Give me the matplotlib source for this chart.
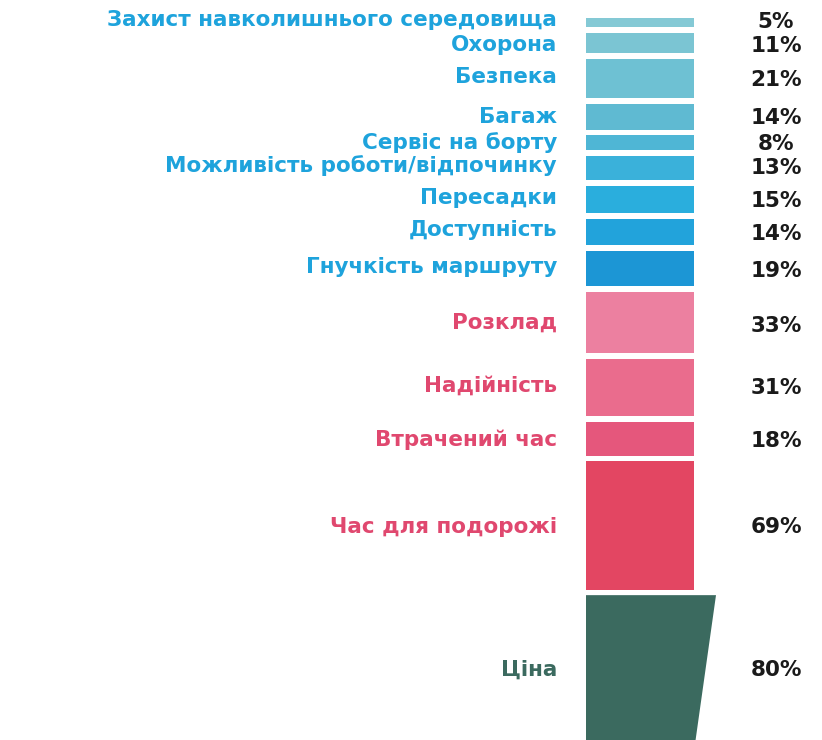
import numpy as np
import matplotlib.pyplot as plt
from matplotlib.patches import Polygon

# data
labels = [
    "Захист навколишнього середовища",
    "Охорона",
    "Безпека",
    "Багаж",
    "Сервіс на борту",
    "Можливість роботи/відпочинку",
    "Пересадки",
    "Доступність",
    "Гнучкість маршруту",
    "Розклад",
    "Надійність",
    "Втрачений час",
    "Час для подорожі",
    "Ціна",
]
values = [5, 11, 21, 14, 8, 13, 15, 14, 19, 33, 31, 18, 69, 80]

bar_colors = [
    "#84c9d5", "#7bc5d3", "#6ec1d3", "#5fbad2", "#4fb6d5", "#3ab1da", "#2aaedd",
    "#22a3db", "#1c96d5",
    "#ec80a0", "#ea6c8d", "#e5577c", "#e34662",
    "#3b6a5f",
]
label_colors = ["#1ea3dc"] * 9 + ["#e0486f"] * 4 + ["#3b6a5f"]

# small vertical nudges (in value units) so crowded texts don't collide
label_nudge = [-1.5, 1, -0.8, 0, 0, -1.2, -0.8, -1, -0.7, 0.3, -0.8, 0.6, 0.8, 0]
pct_nudge = [-0.5, 1.5, 1, 0.5, 0.5, 0.3, 1, 1, 1.5, 2, 0, 1, 1, 0]

gap = 3
heights = np.array(values, dtype=float)
tops = np.concatenate([[0], np.cumsum(heights + gap)[:-1]])
centers = tops + heights / 2

fig = plt.figure(figsize=(8.22, 7.4), dpi=100)
ax = fig.add_axes([0, 0, 1, 1])
ax.set_xlim(0, 822)
ax.set_ylim(387.8, -9.67)
ax.axis('off')

# stacked segments
ax.bar(586, heights[:-1], width=108, bottom=tops[:-1], align='edge',
       color=bar_colors[:-1], linewidth=0)

# last segment is a trapezoid
t, h = tops[-1], heights[-1]
ax.add_patch(Polygon([(586, t), (716, t), (695, t + h), (586, t + h)],
                     closed=True, facecolor=bar_colors[-1], linewidth=0))

for lab, c, dy, col in zip(labels, centers, label_nudge, label_colors):
    ax.text(557, c + dy, lab, ha='right', va='center', fontsize=15.5,
            fontweight='bold', color=col)

for v, c, dy in zip(values, centers, pct_nudge):
    ax.text(776, c + dy, f"{v}%", ha='center', va='center', fontsize=15.5,
            fontweight='bold', color='#1a1a1a')

fig.savefig("out.png", dpi=100)
